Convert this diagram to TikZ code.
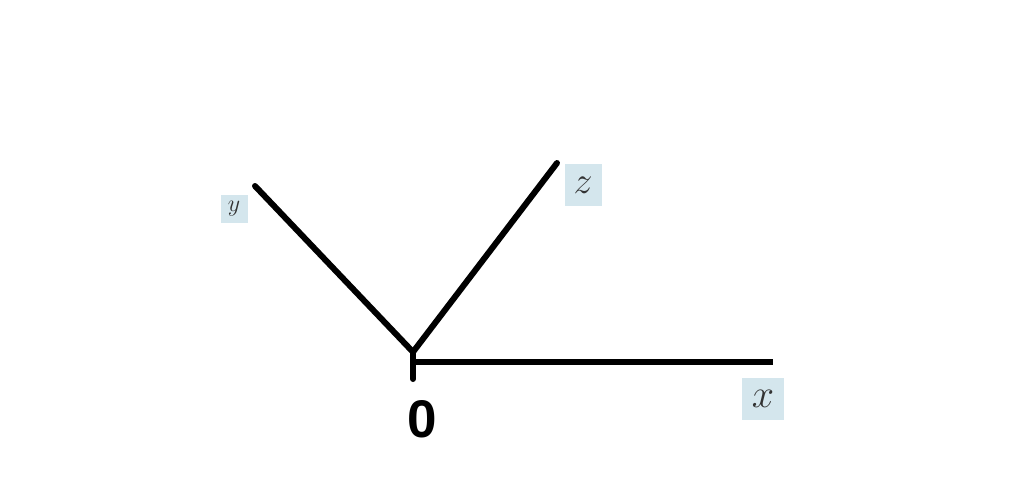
\RequirePackage{fix-cm}
\documentclass[tikz,border=0pt]{standalone}
\usepackage{fontspec}
\newfontfamily\zerofont{Liberation Sans}
\usepackage{tikz}

\begin{document}
\begin{tikzpicture}[x=1pt,y=-1pt,line width=6pt,
  axis/.style={draw=black,line cap=round},
  label box/.style={fill=boxblue,text=black!80,inner sep=0pt,anchor=center}]
  \definecolor{boxblue}{HTML}{D4E6ED}
  \useasboundingbox (0,0) rectangle (1024,489);
  \coordinate (O) at (413,352);
  \coordinate (Y) at (255,186);
  \coordinate (Z) at (557,163);
  \coordinate (Xs) at (413,362);
  \coordinate (X) at (773,362);
  \coordinate (S) at (413,379);

  \node[label box, minimum width=27pt, minimum height=28pt, font=\fontsize{24}{24}\selectfont] (ylab) at (234,209) {$y$};
  \node[label box, minimum width=37pt, minimum height=42pt, font=\fontsize{38}{38}\selectfont] (zlab) at (583,185) {$z$};
  \node[label box, minimum width=42pt, minimum height=42pt, font=\fontsize{40}{40}\selectfont] (xlab) at (763,399) {$x$};
  \node[font=\fontsize{53}{53}\selectfont\zerofont\bfseries, inner sep=0pt] (zero) at (422,419) {0};

  \path[axis]
  (O) edge [] (Y)
  (O) edge [] (Z)
  (O) edge [] (S);
  \draw[line cap=butt] (Xs) -- (X);
\end{tikzpicture}
\end{document}
